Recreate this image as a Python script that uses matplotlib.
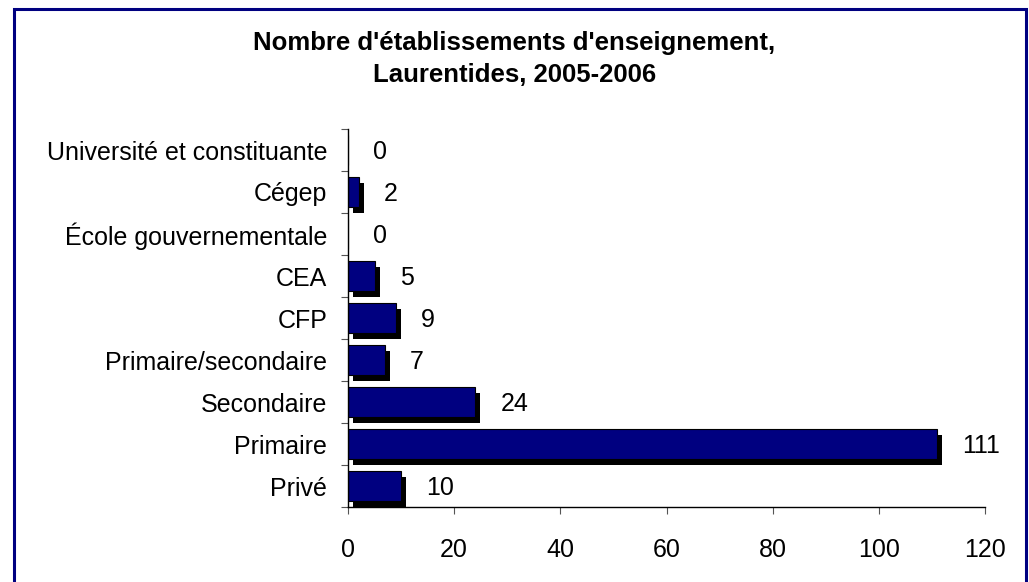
import matplotlib
matplotlib.use("Agg")
import matplotlib.pyplot as plt
import matplotlib.patches as patches
import matplotlib.patheffects as pe

# Données du graphique (de haut en bas)
categories = ["Université et constituante", "Cégep", "École gouvernementale", "CEA",
              "CFP", "Primaire/secondaire", "Secondaire", "Primaire", "Privé"]
valeurs = [0, 2, 0, 5, 9, 7, 24, 111, 10]
xticks = [0, 20, 40, 60, 80, 100, 120]

plt.rcParams['font.family'] = ['Liberation Sans', 'DejaVu Sans']

W, H = 1029, 582
fig = plt.figure(figsize=(W / 100, H / 100), dpi=100)
ax = fig.add_axes([348 / W, 1 - 507 / H, (985 - 348) / W, (507 - 129) / H])

pos = list(range(len(categories)))[::-1]
bars = ax.barh(pos, valeurs, height=0.7, color="#000080", edgecolor="black", linewidth=0.8)
for b in bars:
    b.set_path_effects([pe.SimplePatchShadow(offset=(3.6, -4.3), shadow_rgbFace="black", alpha=1.0),
                        pe.Normal()])

# Étiquettes de valeurs
for p, v in zip(pos, valeurs):
    ax.annotate(str(v), (v, p), xytext=(25, -2), textcoords="offset pixels",
                ha="left", va="center", fontsize=18)

ax.set_xlim(0, 120)
ax.set_ylim(-0.5, len(categories) - 0.5)
ax.set_xticks(xticks)
ax.set_yticks([y + 0.5 for y in range(-1, len(categories))], minor=False)
ax.set_yticklabels([])
ax.set_yticks(pos, minor=True)
ax.set_yticklabels(categories, minor=True)
ax.tick_params(axis="y", which="minor", length=0, pad=15, labelsize=18)
ax.tick_params(axis="y", which="major", length=5, color="#555555")
ax.tick_params(axis="x", length=5, pad=17, labelsize=18, color="#555555")

for s in ["top", "right"]:
    ax.spines[s].set_visible(False)
ax.spines["left"].set_linewidth(1)
ax.spines["bottom"].set_linewidth(1)

fig.text(0.5, 1 - 43 / H, "Nombre d'établissements d'enseignement,", ha="center", va="center",
         fontsize=18.5, fontweight="bold")
fig.text(0.5, 1 - 75 / H, "Laurentides, 2005-2006", ha="center", va="center",
         fontsize=18.5, fontweight="bold")

# Cadre bleu autour du graphique
cadre = patches.Rectangle((14 / W, -0.05), (1026 - 14) / W, 1 - 9 / H + 0.05,
                          transform=fig.transFigure, fill=False, edgecolor="#000080",
                          linewidth=2.2, clip_on=False)
fig.patches.append(cadre)

fig.savefig("out.png", dpi=100)
